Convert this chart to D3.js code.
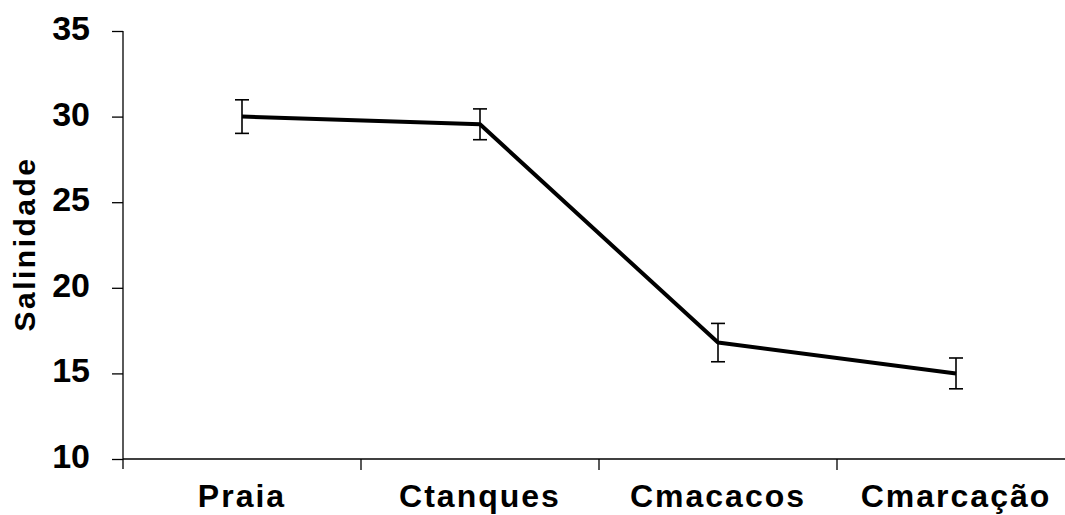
<!DOCTYPE html>
<html><head><meta charset="utf-8">
<script src="https://cdn.jsdelivr.net/npm/d3@7"></script>
<style>body{margin:0;background:#fff}svg{display:block}</style>
</head><body>
<svg id="c" width="1065" height="515"></svg>
<script>
const categories = ["Praia", "Ctanques", "Cmacacos", "Cmarcação"];
const values = [30.0, 29.55, 16.8, 15.0];
const errors = [0.98, 0.9, 1.12, 0.9];
const yTicks = [10, 15, 20, 25, 30, 35];

const svg = d3.select("#c");
const m = {l:123, t:31, b:459, r:1075};
const x = d3.scaleBand().domain(categories).range([m.l, m.r]);
const y = d3.scaleLinear().domain([10, 35]).range([m.b, m.t]);
const font = "'Liberation Sans', Arial, sans-serif";

// y axis
const ya = svg.append("g").attr("transform", `translate(${m.l},0)`)
  .call(d3.axisLeft(y).tickValues(yTicks).tickSize(11).tickPadding(22).tickSizeOuter(0));
ya.select(".domain").remove();
ya.append("line").attr("x1",0).attr("x2",0).attr("y1",m.t).attr("y2",m.b+10).attr("stroke","#000").attr("stroke-width",1.3);
ya.selectAll(".tick line").attr("stroke-width",1.3);
ya.selectAll("text").attr("font-family",font).attr("font-weight","bold").attr("font-size",34)
  .attr("dy","0.25em").attr("fill","#000");

// x axis
const xa = svg.append("g").attr("transform", `translate(0,${m.b})`);
xa.append("line").attr("x1",m.l).attr("x2",1065).attr("y1",0).attr("y2",0).attr("stroke","#000").attr("stroke-width",1.3);
const bounds = categories.slice(1).map(c => x(c));
xa.selectAll("line.tk").data(bounds).join("line").attr("class","tk")
  .attr("x1",d=>d).attr("x2",d=>d).attr("y1",0).attr("y2",11).attr("stroke","#000").attr("stroke-width",1.3);
xa.selectAll("text").data(categories).join("text")
  .attr("x", d => x(d) + x.bandwidth()/2).attr("y", 48)
  .attr("text-anchor","middle").attr("font-family",font).attr("font-weight","bold")
  .attr("font-size",32).attr("letter-spacing",2).text(d=>d);

// y title
svg.append("text").attr("transform",`translate(35,244) rotate(-90)`).attr("text-anchor","middle")
  .attr("font-family",font).attr("font-weight","bold").attr("font-size",30).attr("letter-spacing",2.5).text("Salinidade");

const cx = i => x(categories[i]) + x.bandwidth()/2;
// error bars
const eb = svg.append("g").attr("stroke","#000").attr("stroke-width",1.6);
values.forEach((v,i)=>{
  eb.append("line").attr("x1",cx(i)).attr("x2",cx(i)).attr("y1",y(v+errors[i])).attr("y2",y(v-errors[i]));
  [v+errors[i], v-errors[i]].forEach(e=>eb.append("line").attr("x1",cx(i)-7).attr("x2",cx(i)+7).attr("y1",y(e)).attr("y2",y(e)));
});
// line
svg.append("path").datum(values).attr("fill","none").attr("stroke","#000").attr("stroke-width",4)
  .attr("stroke-linejoin","round")
  .attr("d", d3.line().x((d,i)=>cx(i)).y(d=>y(d)));
</script>
</body></html>
